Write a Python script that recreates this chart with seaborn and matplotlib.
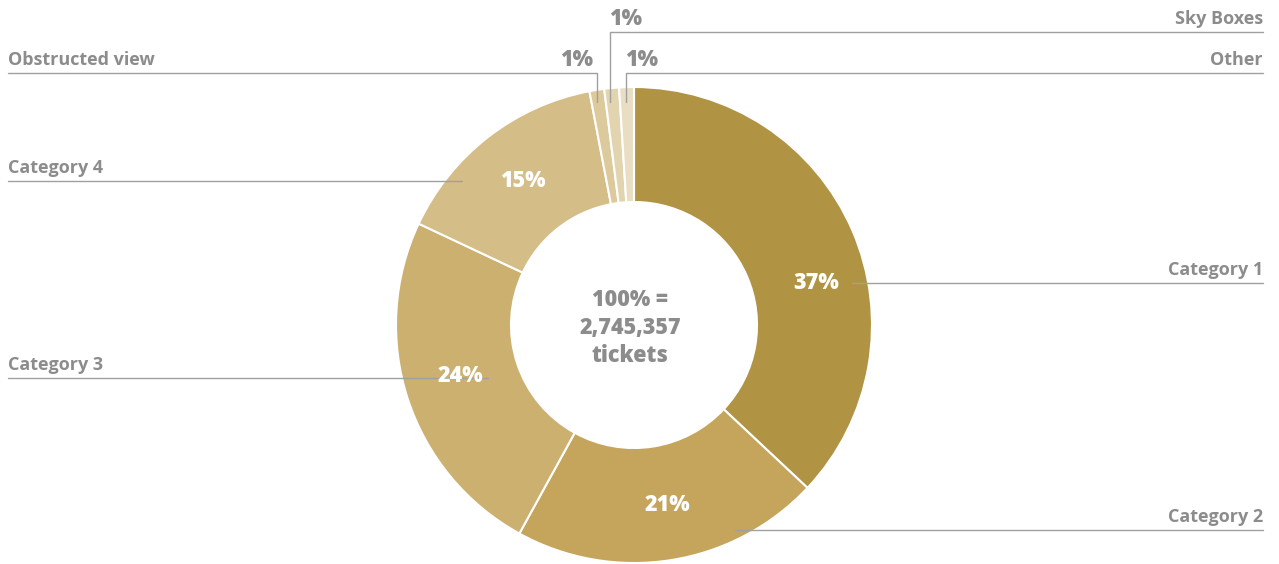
import numpy as np
import seaborn as sns
import matplotlib.pyplot as plt

sns.set_theme(style="white")
plt.rcParams['font.family'] = ['Open Sans', 'DejaVu Sans']

# data
categories = ['Category 1', 'Category 2', 'Category 3', 'Category 4',
              'Obstructed view', 'Sky Boxes', 'Other']
shares = [37, 21, 24, 15, 1, 1, 1]
pct_labels = ['37%', '21%', '24%', '15%', '1%', '1%', '1%']
total_tickets = '2,745,357'

colors = ['#B09443', '#C4A55B', '#CBB070', '#D4BD87',
          '#DCC99C', '#E2D4AF', '#E9DEC3']
grey = '#8C8C8C'
line_grey = '#A0A0A0'

W, H = 1279, 564
fig = plt.figure(figsize=(W / 100, H / 100), dpi=100)
ax = fig.add_axes([0, 0, 1, 1])

cx, cy, r_out, r_in = 634, 325, 238, 123
wedges, _ = ax.pie(shares, colors=colors, startangle=90, counterclock=False,
                   center=(cx, cy), radius=r_out,
                   wedgeprops=dict(width=r_out - r_in, edgecolor='white', linewidth=1.5))
ax.set_xlim(0, W)
ax.set_ylim(0, H)
ax.invert_yaxis()
ax.set_aspect('equal')
ax.axis('off')
# pie draws in a y-up frame; mirror wedge angles to match the inverted axis
for w in wedges:
    t1, t2 = w.theta1, w.theta2
    w.set_theta1(-t2)
    w.set_theta2(-t1)

lab_fs = 13
pct_fs = 15.5
heavy = ['Open Sans', 'DejaVu Sans']

# big slice labels: (name x, align, line y, line end x, pct position)
big_layout = [
    (1263, 'right', 283, 852, (816, 283)),
    (1263, 'right', 530, 735, (667, 505)),
    (8, 'left', 378, 488, (460, 376)),
    (8, 'left', 181, 462, (523, 181)),
]
for i, (tx, ha, ly, lx, ppos) in enumerate(big_layout):
    ax.plot([tx, lx], [ly, ly], color=line_grey, lw=1, zorder=3)
    ax.text(tx, ly - 4, categories[i], ha=ha, va='bottom', fontsize=lab_fs,
            fontweight='bold', color=grey)
    ax.text(ppos[0], ppos[1], pct_labels[i], ha='center', va='center',
            fontsize=pct_fs, fontweight='heavy', color='white',
            family=heavy, zorder=4)

# small slice labels: (name x, align, line y, vertical x, pct x)
small_layout = [
    (8, 'left', 73, 597, 577),
    (1263, 'right', 32, 610, 626),
    (1263, 'right', 73, 626, 642),
]
for j, (tx, ha, ly, vx, px) in enumerate(small_layout):
    i = 4 + j
    ax.plot([tx, vx, vx], [ly, ly, 102], color=line_grey, lw=1, zorder=3)
    ax.text(tx, ly - 4, categories[i], ha=ha, va='bottom', fontsize=lab_fs,
            fontweight='bold', color=grey)
    ax.text(px, ly - 1, pct_labels[i], ha='center', va='bottom',
            fontsize=pct_fs, fontweight='heavy', color=grey, family=heavy)

ax.text(cx - 4, cy + 3, f'100% =\n{total_tickets}\ntickets', ha='center', va='center',
        fontsize=pct_fs, fontweight='heavy', color=grey, linespacing=1.2,
        family=heavy)

fig.savefig('out.png', dpi=100)
